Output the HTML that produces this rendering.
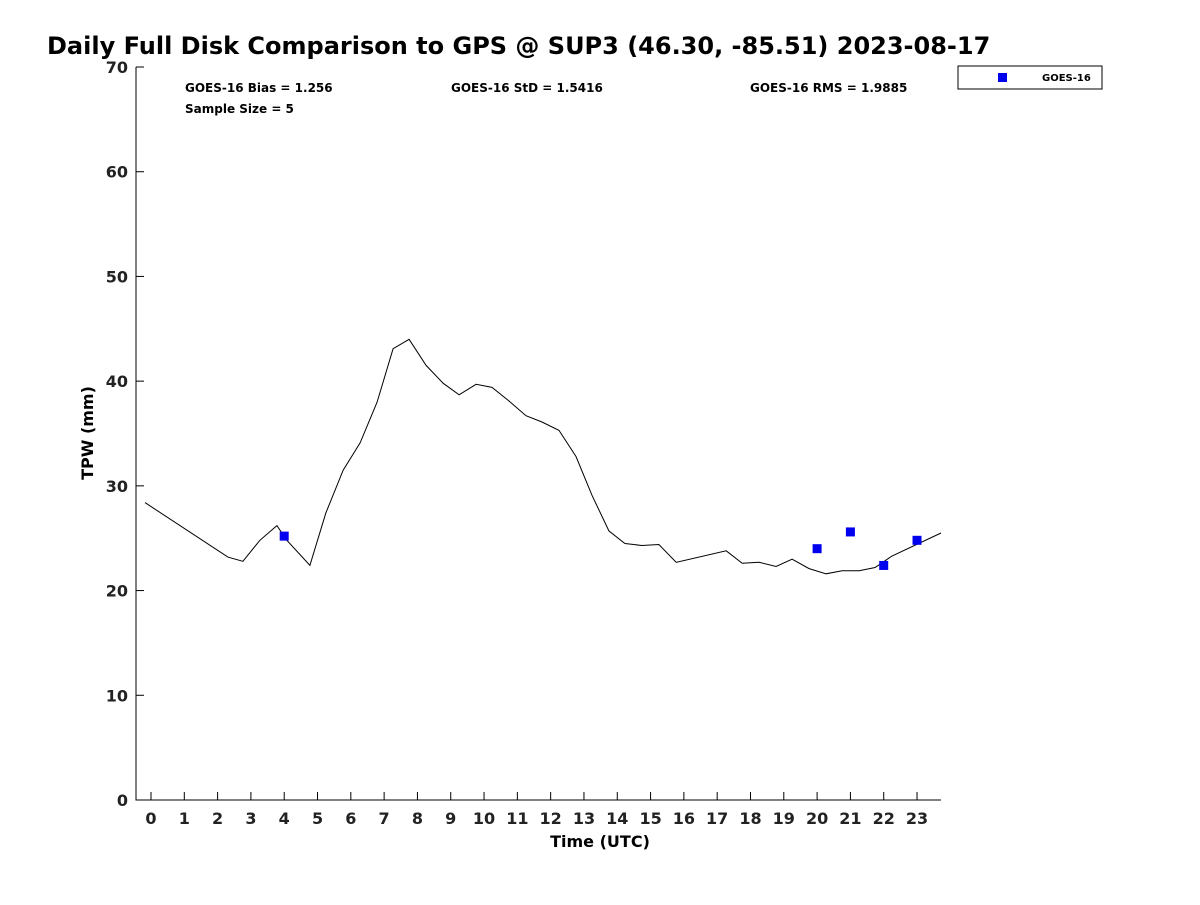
<!DOCTYPE html>
<html><head><meta charset="utf-8"><style>
body{margin:0;background:#fff;}
svg{font-family:"DejaVu Sans","Liberation Sans",sans-serif;}
</style></head><body>
<svg id="chart" width="1200" height="900" viewBox="0 0 1200 900">
<text x="47" y="54" font-size="24" font-weight="bold">Daily Full Disk Comparison to GPS @ SUP3 (46.30, -85.51) 2023-08-17</text>
<g id="axes"></g>
<text x="185" y="92" font-size="12" font-weight="bold">GOES-16 Bias = 1.256</text>
<text x="451" y="92" font-size="12" font-weight="bold">GOES-16 StD = 1.5416</text>
<text x="750" y="92" font-size="12" font-weight="bold">GOES-16 RMS = 1.9885</text>
<text x="185" y="113" font-size="12" font-weight="bold">Sample Size = 5</text>
<g>
<rect x="958" y="66" width="144" height="23" fill="#fff" stroke="#000" stroke-width="1"/>
<rect x="998" y="73" width="9" height="9" fill="#0000ee"/>
<text x="1042" y="81" font-size="10" font-weight="bold">GOES-16</text>
</g>
<text x="600" y="847" font-size="16" font-weight="bold" text-anchor="middle">Time (UTC)</text>
<text transform="translate(93,433) rotate(-90)" font-size="16" font-weight="bold" text-anchor="middle">TPW (mm)</text>
</svg>
<script>
const gpsHours=[-0.18,2.31,2.76,3.27,3.78,4.08,4.77,5.25,5.77,6.28,6.79,7.27,7.75,8.26,8.77,9.25,9.76,10.24,10.75,11.26,11.74,12.25,12.76,13.24,13.75,14.23,14.74,15.25,15.77,17.27,17.75,18.26,18.77,19.25,19.76,20.27,20.75,21.26,21.74,22.25,23.72];
const gpsTPW=[28.4,23.2,22.8,24.8,26.2,24.8,22.4,27.4,31.5,34.1,38.0,43.1,44.0,41.5,39.8,38.7,39.7,39.4,38.1,36.7,36.1,35.3,32.8,29.1,25.7,24.5,24.3,24.4,22.7,23.8,22.6,22.7,22.3,23.0,22.1,21.6,21.9,21.9,22.2,23.3,25.5];
const goesHours=[4,20,21,22,23];
const goesTPW=[25.2,24.0,25.6,22.4,24.8];
const xTicks=[0,1,2,3,4,5,6,7,8,9,10,11,12,13,14,15,16,17,18,19,20,21,22,23];
const yTicks=[0,10,20,30,40,50,60,70];
const NS='http://www.w3.org/2000/svg';
const L=136,R=941,T=67,B=800,xmin=-0.45,xmax=23.72,ymin=0,ymax=70;
const X=h=>L+(h-xmin)/(xmax-xmin)*(R-L);
const Y=v=>B-(v-ymin)/(ymax-ymin)*(B-T);
const svg=document.getElementById('chart');
const ax=document.getElementById('axes');
function mk(t,a,p){const e=document.createElementNS(NS,t);for(const k in a)e.setAttribute(k,a[k]);(p||svg).appendChild(e);return e;}
const axl=mk('path',{d:`M${L},${T}V${B}H${R}`,fill:'none',stroke:'#000','stroke-width':1},ax);


xTicks.forEach(h=>{
  const x=X(h);
  const t=mk('line',{x1:x,x2:x,y1:B,y2:B-8,stroke:'#000'},ax);
  
  
  const lb=mk('text',{x:x,y:B+24,'font-size':16,'font-weight':'bold','text-anchor':'middle',fill:'#222'},ax);
  lb.textContent=h;
  
  
});
yTicks.forEach(v=>{
  const y=Y(v);
  const t=mk('line',{x1:L,x2:L+8,y1:y,y2:y,stroke:'#000'},ax);
  
  
  const lb=mk('text',{x:L-8,y:y+6,'font-size':16,'font-weight':'bold','text-anchor':'end',fill:'#222'},ax);
  lb.textContent=v;
  
  
});
const pts=gpsHours.map((h,i)=>X(h).toFixed(1)+','+Y(gpsTPW[i]).toFixed(1)).join(' ');
const line=mk('polyline',{points:pts,fill:'none',stroke:'#000','stroke-width':1});


goesHours.forEach((h,i)=>{
  const r=mk('rect',{x:X(h)-4.5,y:Y(goesTPW[i])-4.5,width:9,height:9,fill:'#0000ee'});
  
  
});
</script>
</body></html>
